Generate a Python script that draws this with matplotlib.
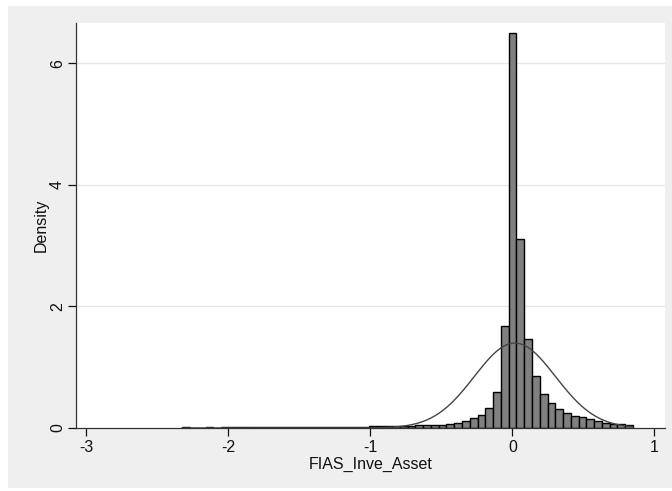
import numpy as np
import matplotlib as mpl
mpl.use('Agg')
import matplotlib.pyplot as plt
from matplotlib.patches import Rectangle

# histogram of FIAS_Inve_Asset (density scale), 58 bins
bin_start = -2.325
bin_width = 0.05472
density = [0.012, 0.008, 0.008, 0.009, 0.008, 0.009, 0.010, 0.010, 0.011, 0.011,
           0.012, 0.012, 0.013, 0.014, 0.014, 0.015, 0.016, 0.017, 0.018, 0.019,
           0.020, 0.021, 0.023, 0.024, 0.026, 0.028, 0.030, 0.032, 0.035, 0.038,
           0.042, 0.046, 0.050, 0.055, 0.07, 0.09, 0.115, 0.16, 0.21, 0.33,
           0.59, 1.68, 6.49, 3.11, 1.46, 0.85, 0.56, 0.41, 0.31, 0.25,
           0.20, 0.175, 0.14, 0.115, 0.09, 0.07, 0.06, 0.05]

# normal overlay
mu = 0.017
sigma = 0.2856

xticks = [-3, -2, -1, 0, 1]
yticks = [0, 2, 4, 6]

plt.rcParams['font.family'] = ['Liberation Sans', 'DejaVu Sans']

fig = plt.figure(figsize=(6.72, 4.91), dpi=100, facecolor='white')
# graph region background
fig.patches.append(Rectangle((8 / 672, 3 / 491), 664 / 672, 482 / 491,
                             transform=fig.transFigure, facecolor='#efefef',
                             edgecolor='none', zorder=-1))

ax = fig.add_axes([76 / 672, 1 - 428 / 491, 589 / 672, 405 / 491])
ax.set_zorder(2)
ax.set_facecolor('white')

edges = bin_start + bin_width * np.arange(len(density))
ax.bar(edges, density, width=bin_width, align='edge', color='#808080',
       edgecolor='#000000', linewidth=1.0, zorder=2)

xs = np.linspace(edges[0], edges[-1] + bin_width, 600)
pdf = np.exp(-0.5 * ((xs - mu) / sigma) ** 2) / (sigma * np.sqrt(2 * np.pi))
ax.plot(xs, pdf, color='#444444', linewidth=1.0, zorder=3)

ax.set_xlim(-3.073, 1.074)
ax.set_ylim(0, 6.66)

ax.set_xticks(xticks)
ax.set_xticklabels([str(t) for t in xticks])
ax.set_yticks(yticks)
ax.set_yticklabels([str(t) for t in yticks], rotation=90, va='center')
ax.tick_params(axis='both', labelsize=11.5, colors='#111111', length=6, width=0.9)
ax.tick_params(axis='x', pad=3)
ax.tick_params(axis='y', pad=2)

for y in yticks[1:]:
    ax.axhline(y, color='#e6e6e6', linewidth=1.0, zorder=1)

for s in ['top', 'right']:
    ax.spines[s].set_visible(False)
for s in ['left', 'bottom']:
    ax.spines[s].set_color('#333333')
    ax.spines[s].set_linewidth(0.9)
    ax.spines[s].set_zorder(4)

ax.set_xlabel('FIAS_Inve_Asset', fontsize=11.5, color='#111111', labelpad=1)
ax.set_ylabel('Density', fontsize=11.5, color='#111111', labelpad=1)

plt.savefig('out.png', dpi=100, facecolor='white')
